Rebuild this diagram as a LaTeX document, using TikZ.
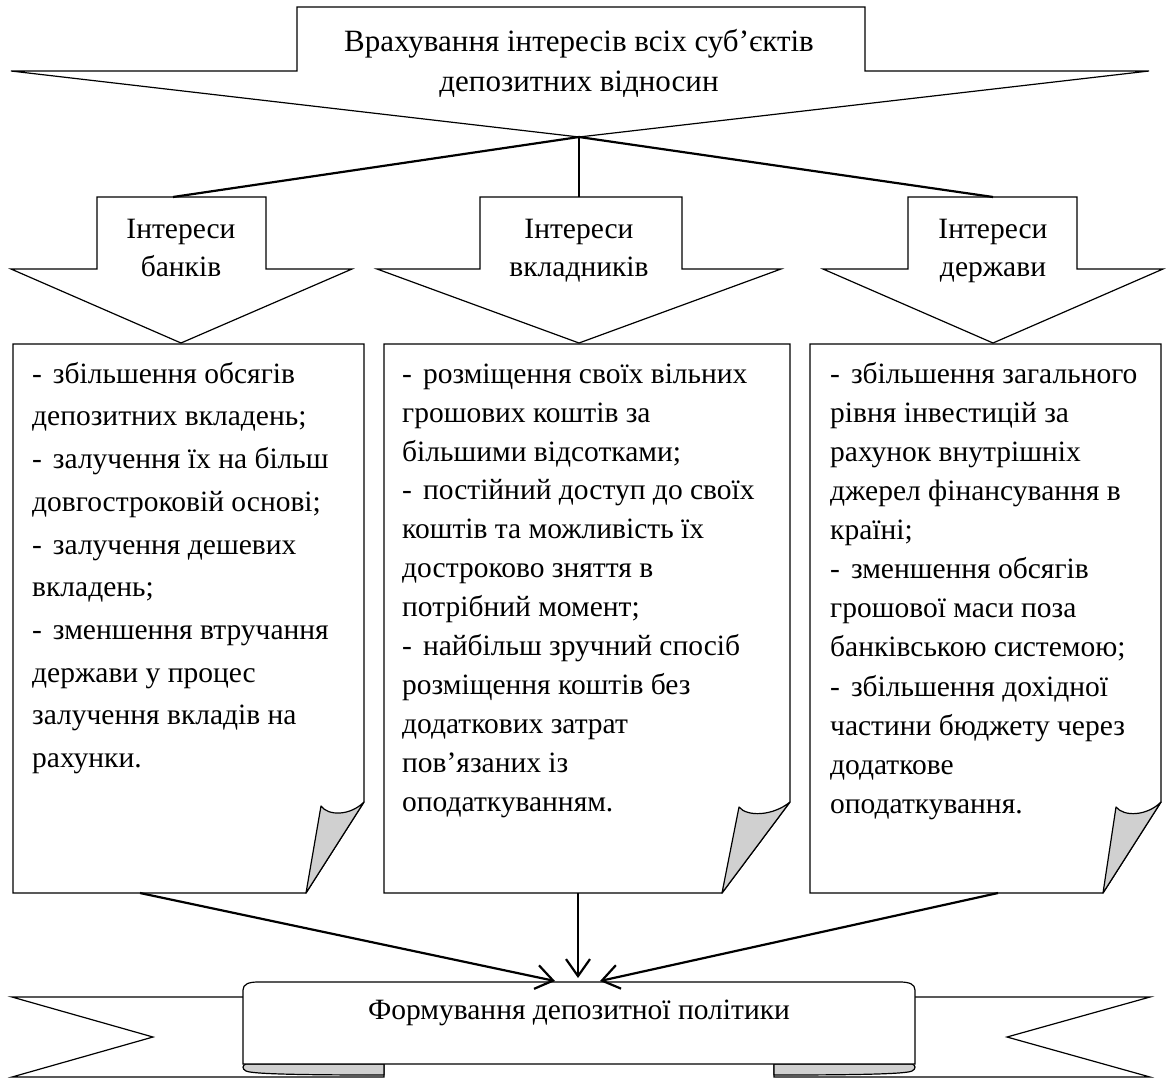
\documentclass[tikz,border=0pt]{standalone}
\usepackage{fontspec}
\setmainfont{Liberation Serif}
\usetikzlibrary{arrows.meta}
\definecolor{foldgray}{HTML}{D0D0D0}
\tikzset{
  outline/.style={draw=black, line width=1.2pt, line join=miter, fill=white},
  fold/.style={draw=black, line width=1.2pt, fill=foldgray, line join=round},
  conn/.style={draw=black, line width=2.2pt},
  connthin/.style={draw=black, line width=1.3pt},
  arr/.style={conn, -{Straight Barb[length=17pt,width=24pt,line width=2.2pt]}},
  lbl/.style={inner sep=0pt, align=center, font=\fontsize{29.5}{38}\selectfont},
  boxtxt/.style={inner sep=0pt, align=left, anchor=north west},
}
\newcommand\dsh{-\hspace{11pt}}
\newcommand\st{\rule{0pt}{25pt}}
\begin{document}
\begin{tikzpicture}[x=1pt,y=-1pt]
\useasboundingbox (0,0) rectangle (1174,1079);
\fill[white] (0,0) rectangle (1174,1079);

% top arrow
\draw[outline] (297,7) -- (865,7) -- (865,71) -- (1149,71) -- (579,137) -- (11,71) -- (297,71) -- cycle;
\node[lbl, anchor=north, font=\fontsize{31}{40}\selectfont] (toptext) at (579,26) {\st Врахування інтересів всіх суб’єктів\\депозитних відносин};
\coordinate (toptip) at (579,137);

% small arrows
\draw[outline] (97,197) -- (266,197) -- (266,269) -- (352,269) -- (181,343) -- (11,269) -- (97,269) -- cycle;
\draw[outline] (480,197) -- (682,197) -- (682,269) -- (781,269) -- (579,343) -- (377,269) -- (480,269) -- cycle;
\draw[outline] (908,197) -- (1077,197) -- (1077,269) -- (1163,269) -- (993,343) -- (823,269) -- (908,269) -- cycle;
\coordinate (lefttop) at (173,197);
\coordinate (midtop) at (579,197);
\coordinate (righttop) at (993,197);
\node[lbl, anchor=north] (lab1) at (181,213) {\st Інтереси\\банків};
\node[lbl, anchor=north] (lab2) at (579,213) {\st Інтереси\\вкладників};
\node[lbl, anchor=north] (lab3) at (993,213) {\st Інтереси\\держави};

% connectors from top arrow
\draw[conn] (toptip) -- (lefttop);
\draw[connthin] (toptip) -- (midtop);
\draw[conn] (toptip) -- (righttop);

% boxes with curled corners
\draw[outline] (13,344) -- (364,344) -- (364,802) -- (306,893) -- (13,893) -- cycle;
\draw[fold] (364,802) -- (306,893) -- (321,806) .. controls (328,816) and (350,816) .. (364,802) -- cycle;
\draw[outline] (384,344) -- (790,344) -- (790,802) -- (722,893) -- (384,893) -- cycle;
\draw[fold] (790,802) -- (722,893) -- (739,807) .. controls (747,817) and (773,816) .. (790,802) -- cycle;
\draw[outline] (810,344) -- (1161,344) -- (1161,802) -- (1103,893) -- (810,893) -- cycle;
\draw[fold] (1161,802) -- (1103,893) -- (1116,807) .. controls (1124,817) and (1147,816) .. (1161,802) -- cycle;

\node[boxtxt, font=\fontsize{29.5}{42.7}\selectfont] (banks) at (32,358) {\st\dsh збільшення обсягів\\депозитних вкладень;\\\dsh залучення їх на більш\\довгостроковій основі;\\\dsh залучення дешевих\\вкладень;\\\dsh зменшення втручання\\держави у процес\\залучення вкладів на\\рахунки.};
\node[boxtxt, font=\fontsize{29.5}{38.9}\selectfont] (depositors) at (402,358) {\st\dsh розміщення своїх вільних\\грошових коштів за\\більшими відсотками;\\\dsh постійний доступ до своїх\\коштів та можливість їх\\достроково зняття в\\потрібний момент;\\\dsh найбільш зручний спосіб\\розміщення коштів без\\додаткових затрат\\пов’язаних із\\оподаткуванням.};
\node[boxtxt, font=\fontsize{29.5}{39.1}\selectfont] (state) at (830,358) {\st\dsh збільшення загального\\рівня інвестицій за\\рахунок внутрішніх\\джерел фінансування в\\країні;\\\dsh зменшення обсягів\\грошової маси поза\\банківською системою;\\\dsh збільшення дохідної\\частини бюджету через\\додаткове\\оподаткування.};

\coordinate (lb) at (140,893);
\coordinate (mb) at (578,893);
\coordinate (rb) at (998,893);

% bottom ribbon
\draw[outline] (243,997) -- (12,997) -- (153,1037) -- (12,1077) -- (384,1077) -- (384,1064);
\draw[fold] (384,1064) -- (384,1075) .. controls (300,1075) and (252,1074) .. (246,1071) .. controls (242,1069) and (242,1065) .. (246,1064) -- cycle;
\draw[outline] (915,997) -- (1150,997) -- (1007,1037) -- (1150,1077) -- (774,1077) -- (774,1064);
\draw[fold] (774,1064) -- (774,1075) .. controls (858,1075) and (906,1074) .. (912,1071) .. controls (916,1069) and (916,1065) .. (912,1064) -- cycle;
\draw[outline] (243,1064) -- (243,990) .. controls (243,984) and (249,982) .. (258,982) -- (900,982) .. controls (909,982) and (915,984) .. (915,990) -- (915,1064) -- cycle;
\node[lbl, anchor=base] (banner) at (579,1019) {Формування депозитної політики};
\coordinate (bl) at (555,981);
\coordinate (bm) at (578,978);
\coordinate (br) at (600,981);

\draw[arr] (lb) -- (bl);
\draw[arr] (mb) -- (bm);
\draw[arr] (rb) -- (br);
\end{tikzpicture}
\end{document}
